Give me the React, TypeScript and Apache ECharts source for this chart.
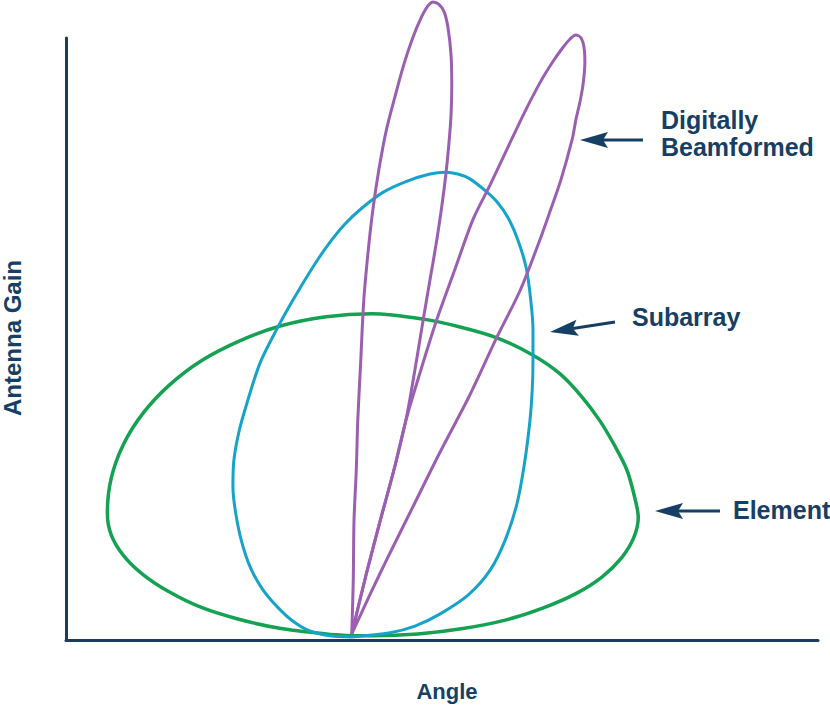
import React, { useEffect, useRef } from "react";
import * as echarts from "echarts";

// [angle, gain] samples, in axis units (0..100 on both axes)
const elementPattern: number[][] = [
  [37.9, 0.7], [34.6, 1.0], [28.6, 1.9], [23.1, 3.4], [18.0, 5.4], [13.7, 8.0],
  [10.2, 10.9], [7.6, 14.1], [6.0, 17.5], [5.5, 21.1], [6.0, 26.8], [7.6, 32.4],
  [10.2, 37.6], [13.7, 42.3], [18.0, 46.4], [23.1, 49.7], [28.6, 52.2], [34.6, 53.7],
  [40.7, 54.2], [47.5, 53.3], [52.4, 52.0], [57.3, 50.2], [62.1, 47.3], [65.7, 44.2],
  [68.6, 40.4], [71.0, 36.4], [73.0, 32.2], [74.6, 28.2], [75.5, 24.3], [76.1, 20.4],
  [75.5, 17.0], [73.9, 13.7], [71.3, 10.5], [67.8, 7.7], [63.4, 5.3], [58.4, 3.3],
  [52.8, 1.9], [46.8, 1.0], [40.7, 0.7], [37.9, 0.7],
];

const subarrayPattern: number[][] = [
  [37.9, 0.5], [35.1, 0.7], [32.4, 1.5], [30.1, 3.2], [28.1, 5.5], [26.1, 8.5],
  [24.5, 12.1], [23.3, 16.6], [22.5, 21.6], [22.2, 25.4], [22.3, 29.6], [23.0, 34.6],
  [24.1, 39.5], [25.8, 46.0], [28.1, 51.8], [30.2, 56.5], [32.4, 61.1], [34.7, 65.4],
  [37.1, 69.1], [39.4, 71.8], [42.2, 74.4], [45.3, 76.2], [48.4, 77.4], [50.4, 77.7],
  [52.1, 77.4], [53.7, 76.6], [55.6, 74.8], [57.3, 72.8], [58.8, 70.1], [60.1, 66.4],
  [61.2, 61.8], [61.8, 56.5], [62.1, 51.5], [62.1, 46.5], [62.0, 41.5], [61.7, 36.5],
  [61.0, 29.6], [60.0, 22.8], [58.4, 16.6], [56.4, 11.6], [53.5, 7.5], [49.7, 4.3],
  [46.4, 2.3], [43.1, 1.2], [37.9, 0.5],
];

const beamOnePattern: number[][] = [
  [38.0, 1.0], [38.2, 10.0], [38.3, 19.9], [38.6, 28.2], [38.8, 36.5], [39.2, 46.5],
  [39.6, 56.5], [40.2, 64.8], [40.8, 71.4], [41.6, 78.1], [42.6, 84.7], [43.8, 90.5],
  [44.9, 95.5], [46.1, 100.0], [47.2, 103.3], [48.1, 105.3], [48.8, 106.0], [49.6, 105.6],
  [50.3, 104.3], [50.8, 101.7], [51.2, 97.2], [51.3, 92.2], [51.2, 87.2], [50.9, 82.2],
  [50.5, 77.2], [50.0, 72.3], [49.3, 66.4], [48.4, 59.8], [47.5, 53.2], [46.4, 44.9],
  [45.2, 36.5], [43.6, 28.2], [41.8, 19.9], [39.9, 10.8], [38.0, 1.0],
];

const beamTwoPattern: number[][] = [
  [38.0, 1.0], [39.9, 10.8], [41.8, 19.9], [43.6, 28.2], [45.2, 36.5], [47.2, 44.9],
  [49.3, 53.2], [51.7, 61.5], [54.1, 69.8], [56.4, 75.6], [58.6, 81.4], [60.8, 87.2],
  [63.0, 92.5], [64.6, 95.8], [66.0, 98.3], [67.0, 99.8], [67.8, 100.5], [68.5, 100.0],
  [68.9, 98.3], [69.0, 96.0], [68.8, 92.7], [68.4, 89.7], [67.8, 86.4], [67.3, 83.1],
  [65.8, 76.4], [64.2, 70.6], [63.0, 66.4], [60.4, 58.1], [57.3, 50.3], [53.7, 40.7],
  [49.7, 31.1], [46.4, 22.8], [43.1, 14.5], [40.4, 7.5], [38.0, 1.0],
];

const xTitle = "Angle";
const yTitle = "Antenna Gain";
const labelTexts = ["Digitally\nBeamformed", "Subarray", "Element"];

const NAVY = "#163f66";
const AXIS = "#1d3c5c";
const GREEN = "#14a152";
const BLUE = "#17a3c9";
const PURPLE = "#9a5fb0";
const FONT = "'Liberation Sans', Arial, Helvetica, sans-serif";

function arrow(tip: [number, number], tail: [number, number]) {
  const dx = tail[0] - tip[0];
  const dy = tail[1] - tip[1];
  const len = Math.hypot(dx, dy);
  const ux = dx / len;
  const uy = dy / len;
  const px = -uy;
  const py = ux;
  const headLen = 28;
  const half = 8;
  const notch = 23;
  const bx = tip[0] + ux * headLen;
  const by = tip[1] + uy * headLen;
  const nx = tip[0] + ux * notch;
  const ny = tip[1] + uy * notch;
  return [
    {
      type: "line",
      shape: { x1: nx, y1: ny, x2: tail[0], y2: tail[1] },
      style: { stroke: NAVY, lineWidth: 3 },
      silent: true,
    },
    {
      type: "polygon",
      shape: {
        points: [
          [tip[0], tip[1]],
          [bx + px * half, by + py * half],
          [nx, ny],
          [bx - px * half, by - py * half],
        ],
      },
      style: { fill: NAVY },
      silent: true,
    },
  ];
}

function lobe(name: string, data: number[][], color: string, width: number) {
  return {
    name,
    type: "line",
    data,
    smooth: 0.3,
    showSymbol: false,
    symbol: "none",
    clip: false,
    lineStyle: { color, width },
    emphasis: { disabled: true },
  };
}

export default function App() {
  const ref = useRef<HTMLDivElement>(null);

  useEffect(() => {
    document.body.style.margin = "0";
    document.body.style.overflow = "hidden";
    const chart = echarts.init(ref.current!, undefined, { renderer: "svg" });
    chart.setOption({
      animation: false,
      backgroundColor: "#ffffff",
      grid: {
        left: 66,
        right: 12,
        top: 38,
        bottom: 66,
        containLabel: false,
        outerBoundsMode: "none",
      },
      xAxis: {
        type: "value",
        min: 0,
        max: 100,
        name: xTitle,
        nameLocation: "middle",
        nameGap: 40,
        nameTextStyle: {
          color: NAVY,
          fontFamily: FONT,
          fontWeight: "bold",
          fontSize: 22,
          padding: [0, 0, 0, 10],
        },
        axisLine: { show: true, lineStyle: { color: AXIS, width: 3 } },
        axisTick: { show: false },
        axisLabel: { show: false },
        splitLine: { show: false },
      },
      yAxis: {
        type: "value",
        min: 0,
        max: 100,
        name: yTitle,
        nameLocation: "middle",
        nameGap: 42,
        nameTextStyle: {
          color: NAVY,
          fontFamily: FONT,
          fontWeight: "bold",
          fontSize: 24,
          padding: [0, 0, 0, 2],
        },
        axisLine: { show: true, lineStyle: { color: AXIS, width: 3 } },
        axisTick: { show: false },
        axisLabel: { show: false },
        splitLine: { show: false },
      },
      series: [
        lobe("Element", elementPattern, GREEN, 3.5),
        lobe("Subarray", subarrayPattern, BLUE, 3),
        lobe("Digitally Beamformed", beamOnePattern, PURPLE, 3),
        lobe("Digitally Beamformed ", beamTwoPattern, PURPLE, 3),
      ],
      graphic: [
        ...arrow([580, 140], [643, 140]),
        ...arrow([550, 332], [615, 322]),
        ...arrow([655, 511], [720, 511]),
        {
          type: "text",
          left: 661,
          top: 106,
          style: {
            text: labelTexts[0],
            fill: NAVY,
            font: `bold 25px ${FONT}`,
            lineHeight: 27,
          },
        },
        {
          type: "text",
          x: 632,
          y: 317,
          style: {
            text: labelTexts[1],
            fill: NAVY,
            font: `bold 25px ${FONT}`,
            verticalAlign: "middle",
          },
        },
        {
          type: "text",
          x: 733,
          y: 510,
          style: {
            text: labelTexts[2],
            fill: NAVY,
            font: `bold 25px ${FONT}`,
            verticalAlign: "middle",
          },
        },
      ],
    });
    return () => chart.dispose();
  }, []);

  return <div ref={ref} style={{ width: 830, height: 706 }} />;
}
